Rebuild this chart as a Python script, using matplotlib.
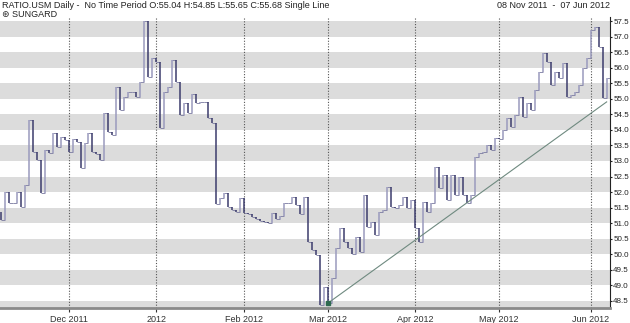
import numpy as np
import pandas as pd
import matplotlib
matplotlib.use("Agg")
import matplotlib.pyplot as plt
from matplotlib.collections import LineCollection

plt.rcParams["font.family"] = ["Liberation Sans Narrow", "Liberation Sans", "DejaVu Sans"]

# daily closes, one per weekday 08 Nov 2011 .. 07 Jun 2012
closes = [
    51.10, 52.01, 51.64, 51.64, 52.01, 51.53, 52.23, 54.32, 53.30, 53.03,
    51.96, 53.35, 53.25, 53.89, 53.46, 53.78, 53.67, 53.30, 53.71, 53.62,
    52.76, 53.57, 53.89, 53.28, 53.21, 53.03, 54.53, 53.92, 53.83, 55.39,
    54.64, 55.07, 55.21, 55.21, 55.07, 55.55, 57.50, 55.71, 56.30, 56.19,
    54.05, 55.23, 55.39, 56.25, 55.55, 54.48, 54.85, 54.53, 55.17, 54.88,
    54.91, 54.91, 54.37, 54.21, 51.61, 51.82, 51.96, 51.53, 51.42, 51.37,
    51.82, 51.32, 51.28, 51.20, 51.13, 51.07, 51.03, 50.99, 51.32, 51.13,
    51.23, 51.64, 51.66, 51.85, 51.58, 51.28, 51.85, 50.38, 50.14, 49.98,
    48.37, 48.96, 48.42, 49.23, 50.19, 50.83, 50.40, 50.19, 50.00, 50.57,
    50.08, 51.91, 50.89, 51.05, 50.62, 51.37, 51.42, 52.15, 51.53, 51.48,
    51.58, 51.85, 51.50, 51.74, 50.83, 50.40, 51.69, 51.37, 51.64, 52.82,
    52.12, 52.55, 51.74, 52.55, 51.91, 52.49, 51.91, 51.64,
    51.91, 53.14, 53.25, 53.30, 53.51, 53.35, 53.73, 53.71, 54.00, 54.37,
    54.10, 54.48, 55.07, 54.42, 54.85, 54.64, 55.28, 55.87, 56.46, 56.19,
    55.44, 55.87, 55.66, 56.14, 55.07, 55.12, 55.21, 55.44, 56.00, 56.30,
    57.21, 57.32, 56.67, 55.01, 55.68,
]
prev_close = 51.37
trend_dates = ["2012-03-01", "2012-06-07"]
trend_values = [48.42, 54.90]
y_ticks = np.arange(48.5, 57.51, 0.5)

dates = pd.bdate_range("2011-11-08", "2012-06-07")
n = len(closes)
x = np.arange(n)

fig = plt.figure(figsize=(6.3, 3.23), dpi=100)
ax = fig.add_axes([0, 0.0464, 0.968, 0.9009])
ax.set_xlim(-0.2, n - 0.2)
ax.set_ylim(48.27, 57.63)

# grey bands
for k in np.arange(48.0, 57.6, 1.0):
    ax.axhspan(k, k + 0.5, color="#dcdcdc", lw=0, zorder=0)

# month gridlines / ticks
month_pos = [i for i in range(1, n) if dates[i].month != dates[i - 1].month]
month_lab = [("%d" % dates[i].year) if dates[i].month == 1 else dates[i].strftime("%b %Y")
             for i in month_pos]
for p in month_pos:
    ax.axvline(p, color="#555555", ls=(0, (1, 1.5)), lw=0.8, zorder=1)
ax.set_xticks(month_pos)
ax.set_xticklabels(month_lab)

# step line: vertical move per day + short horizontal tick
ys = [prev_close] + closes
vsegs, vcols, hsegs = [], [], []
for i in range(n):
    vsegs.append([(x[i], ys[i]), (x[i], ys[i + 1])])
    vcols.append("#9a9abd" if ys[i + 1] >= ys[i] else "#3c3c6c")
    hsegs.append([(x[i], ys[i + 1]), (min(x[i] + 1, n - 0.2), ys[i + 1])])
ax.add_collection(LineCollection(hsegs, colors="#7a7aa0", linewidths=0.6, zorder=3))
ax.add_collection(LineCollection(vsegs, colors=vcols, linewidths=1.1, zorder=3))

# trend line
t_idx = [dates.get_loc(pd.Timestamp(d)) for d in trend_dates]
ax.plot(t_idx, trend_values, color="#6f8a80", lw=0.8, zorder=4)
ax.plot(t_idx[0], trend_values[0], marker="s", ms=2.5, color="#2f6a50", zorder=5)

ax.yaxis.tick_right()
ax.set_yticks(y_ticks)
ax.set_yticklabels(["%.1f" % v for v in y_ticks])
ax.tick_params(axis="y", length=1.5, pad=1, labelsize=5.8, colors="#222222")
ax.tick_params(axis="x", length=3, pad=2, labelsize=6.5, colors="#333333")
for s in ["left", "top"]:
    ax.spines[s].set_visible(False)
ax.spines["right"].set_color("#222222")
ax.spines["right"].set_linewidth(0.8)
ax.spines["bottom"].set_color("#8a8a8a")
ax.spines["bottom"].set_linewidth(2)

fig.text(0.003, 0.982, "RATIO.USM Daily -  No Time Period O:55.04 H:54.85 L:55.65 C:55.68 Single Line",
         fontsize=6.5, va="center", ha="left", color="#222222")
fig.text(0.003, 0.956, "\u229b SUNGARD", fontsize=6.5, va="center", ha="left", color="#222222")
fig.text(0.968, 0.982, "08 Nov 2011  -  07 Jun 2012", fontsize=6.5, va="center", ha="right",
         color="#222222")

fig.savefig("out.png", dpi=100)
